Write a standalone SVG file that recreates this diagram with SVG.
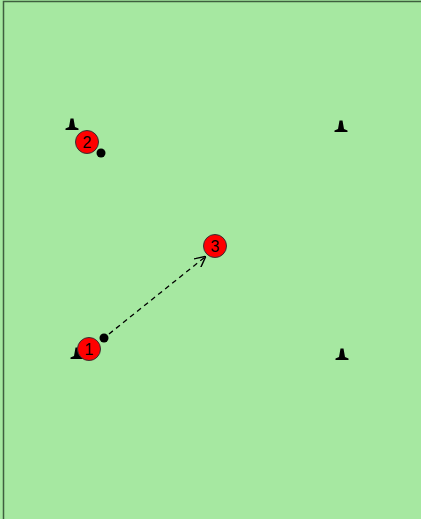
<svg xmlns="http://www.w3.org/2000/svg" width="421" height="519" viewBox="0 0 421 519">
  <defs>
    <style>
      .cone { fill: #000; }
      .player circle { fill: #ff0000; stroke: #333; stroke-width: 1; }
      .player text { font-family: "Liberation Sans", Arial, sans-serif; font-size: 16px; fill: #000; text-anchor: middle; }
      .ball { fill: #000; }
      .pass { stroke: #000; stroke-width: 1.3; stroke-dasharray: 5 4; fill: none; marker-end: url(#open-arrow); }
    </style>
    <marker id="open-arrow" viewBox="0 0 10 10" refX="9" refY="5" markerWidth="11" markerHeight="11" markerUnits="userSpaceOnUse" orient="auto">
      <path d="M0,0 L10,5 L0,10" fill="none" stroke="#000" stroke-width="1.3"/>
    </marker>
    <path id="cone-shape" d="M-1.5,-7.5 L1.5,-7.5 L3,1 L6.5,2.5 L6.5,4 L-6.5,4 L-6.5,2.5 L-3,1 Z"/>
  </defs>

  <!-- pitch -->
  <rect x="0" y="0" width="421" height="519" fill="#a6e8a1"/>
  <path d="M3.5,519 L3.5,1.5 L421,1.5" fill="none" stroke="#3f5f3f" stroke-width="1.5"/>

  <!-- cones -->
  <g id="cone-tl"><use href="#cone-shape" class="cone" x="72" y="126"/></g>
  <g id="cone-tr"><use href="#cone-shape" class="cone" x="341" y="128"/></g>
  <g id="cone-bl"><use href="#cone-shape" class="cone" x="77" y="355"/></g>
  <g id="cone-br"><use href="#cone-shape" class="cone" x="342" y="356"/></g>

  <!-- connectors -->
  <g id="connectors">
    <line class="pass" x1="109" y1="334" x2="205" y2="257"/>
  </g>

  <!-- players -->
  <g id="player-2" class="player">
    <circle cx="87" cy="142" r="11.5"/>
    <text x="87" y="148">2</text>
  </g>
  <g id="ball-2"><circle class="ball" cx="101" cy="153" r="4.5"/></g>

  <g id="player-3" class="player">
    <circle cx="215" cy="246" r="11.5"/>
    <text x="215" y="252">3</text>
  </g>

  <g id="player-1" class="player">
    <circle cx="89" cy="349" r="11.5"/>
    <text x="89" y="355">1</text>
  </g>
  <g id="ball-1"><circle class="ball" cx="104" cy="338" r="4.5"/></g>
</svg>
